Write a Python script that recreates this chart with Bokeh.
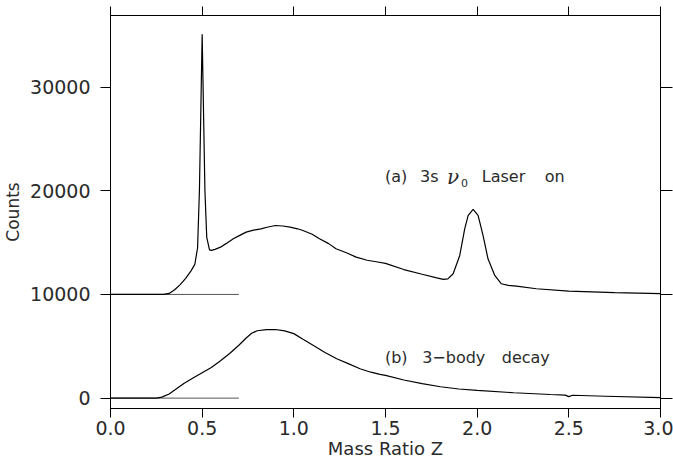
from bokeh.plotting import figure
from bokeh.models import LinearAxis, FixedTicker, Label, Range1d, CustomJSTickFormatter
from bokeh.embed import file_html
from bokeh.resources import INLINE

# ---- data ----
z_a = [0.0, 0.29, 0.32, 0.35, 0.38, 0.41, 0.44, 0.46, 0.475, 0.485, 0.493, 0.50, 0.507,
       0.515, 0.525, 0.54, 0.55, 0.57, 0.60, 0.63, 0.67, 0.70, 0.74, 0.78, 0.82, 0.86,
       0.90, 0.94, 0.98, 1.02, 1.05, 1.10, 1.14, 1.19, 1.23, 1.29, 1.34, 1.40, 1.45,
       1.50, 1.60, 1.70, 1.78, 1.815, 1.84, 1.869, 1.905, 1.932, 1.951, 1.978, 2.005,
       2.032, 2.059, 2.096, 2.132, 2.17, 2.214, 2.323, 2.50, 2.75, 3.0]
counts_a = [10000, 10000, 10100, 10450, 10950, 11550, 12300, 12900, 14500, 20000, 28000,
            35100, 28000, 20000, 15500, 14300, 14250, 14350, 14560, 14900, 15370, 15650,
            16010, 16200, 16330, 16500, 16650, 16600, 16490, 16330, 16170, 15800, 15370,
            14900, 14410, 14000, 13600, 13300, 13150, 13000, 12400, 11950, 11600, 11450,
            11500, 12000, 13760, 16330, 17620, 18200, 17620, 15690, 13440, 11830, 11030,
            10880, 10800, 10550, 10320, 10180, 10070]

z_b = [0.0, 0.25, 0.28, 0.32, 0.36, 0.40, 0.45, 0.50, 0.55, 0.60, 0.65, 0.70, 0.74,
       0.77, 0.80, 0.85, 0.90, 0.95, 1.00, 1.05, 1.107, 1.17, 1.234, 1.30, 1.361, 1.42,
       1.47, 1.50, 1.60, 1.70, 1.80, 1.90, 2.00, 2.20, 2.40, 2.48, 2.50, 2.52, 2.70, 3.0]
counts_b = [0, 0, 100, 400, 900, 1400, 1950, 2450, 2950, 3600, 4300, 5100, 5800, 6250,
            6500, 6600, 6620, 6480, 6220, 5680, 5080, 4400, 3800, 3300, 2835, 2500, 2285,
            2200, 1750, 1400, 1100, 880, 740, 520, 350, 290, 150, 280, 180, 40]

baseline_z = [0.0, 0.7]
baseline_a = [10000, 10000]
baseline_b = [0, 0]

x_ticks = [0.0, 0.5, 1.0, 1.5, 2.0, 2.5, 3.0]
y_ticks = [0, 10000, 20000, 30000]

FONT = "DejaVu Sans"
TXT = "#2a2a2a"

p = figure(width=673, height=466, output_backend="svg", toolbar_location=None,
           x_range=Range1d(0, 3.0), y_range=Range1d(-1000, 36900),
           x_axis_location=None, y_axis_location=None,
           min_border_left=110, min_border_right=13, min_border_top=15, min_border_bottom=58)
p.xgrid.visible = False
p.ygrid.visible = False
p.outline_line_color = "black"
p.outline_line_width = 1
p.background_fill_color = "white"
p.border_fill_color = "white"

def style(ax, out, labels=True, standoff=5):
    ax.axis_line_color = "black"
    ax.axis_line_width = 1
    ax.major_tick_line_color = "black"
    ax.major_tick_out = out
    ax.major_tick_in = 0
    ax.minor_tick_line_color = None
    ax.major_label_standoff = standoff
    if labels:
        ax.major_label_text_font = FONT
        ax.major_label_text_font_size = "19px"
        ax.major_label_text_color = TXT
    else:
        ax.major_label_text_font_size = "0px"
        ax.major_label_text_color = None
        ax.major_label_standoff = 0

xb = LinearAxis(ticker=FixedTicker(ticks=x_ticks),
                formatter=CustomJSTickFormatter(code="return tick.toFixed(1);"))
style(xb, 9, True, 3)
xb.axis_label = "Mass Ratio Z"
xb.axis_label_text_font = FONT
xb.axis_label_text_font_style = "normal"
xb.axis_label_text_font_size = "18px"
xb.axis_label_text_color = TXT
xb.axis_label_standoff = 0
p.add_layout(xb, "below")

xt = LinearAxis(ticker=FixedTicker(ticks=x_ticks))
style(xt, 9, False)
p.add_layout(xt, "above")

yl = LinearAxis(ticker=FixedTicker(ticks=y_ticks),
                formatter=CustomJSTickFormatter(code="return tick.toFixed(0);"))
style(yl, 10, True, 10)
yl.axis_label = "Counts"
yl.axis_label_text_font = FONT
yl.axis_label_text_font_style = "normal"
yl.axis_label_text_font_size = "17px"
yl.axis_label_text_color = TXT
yl.axis_label_standoff = 4
p.add_layout(yl, "left")

yr = LinearAxis(ticker=FixedTicker(ticks=y_ticks))
style(yr, 12, False)
p.add_layout(yr, "right")

# baselines
p.line(baseline_z, baseline_a, line_color="#555555", line_width=1)
p.line(baseline_z, baseline_b, line_color="#555555", line_width=1)

# curves
p.line(z_a, counts_a, line_color="black", line_width=1.2)
p.line(z_b, counts_b, line_color="black", line_width=1.2)

# annotations
def lab(x, y, t, size="16px", font=FONT, style_="normal"):
    p.add_layout(Label(x=x, y=y, text=t, text_font=font, text_font_size=size,
                       text_font_style=style_, text_color=TXT, text_baseline="alphabetic"))

lab(1.497, 21350, "(a)")
lab(1.688, 21350, "3s")
lab(1.835, 21350, "\u03bd", size="20px", font="DejaVu Serif", style_="italic")
lab(1.912, 20700, "0", size="11px")
lab(2.025, 21350, "Laser")
lab(2.368, 21350, "on")
lab(1.497, 3950, "(b)")
lab(1.700, 3950, "3\u2212body")
lab(2.134, 3950, "decay")

open("out.html", "w").write(file_html(p, INLINE))
